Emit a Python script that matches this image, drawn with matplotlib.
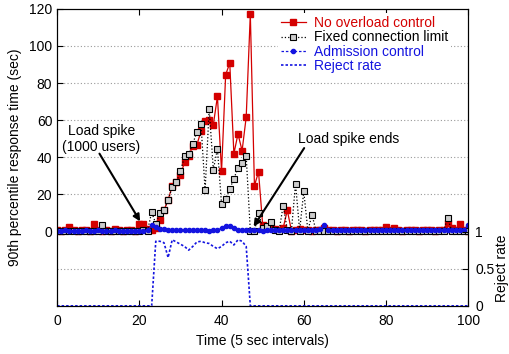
import matplotlib
matplotlib.use("Agg")
import matplotlib.pyplot as plt
import numpy as np

plt.rcParams['font.family'] = ['Liberation Sans', 'DejaVu Sans']
plt.rcParams['font.size'] = 10

# time in 5 sec intervals
t = np.arange(0, 101)

no_control = [
    0.8, 0.5, 1.0, 2.5, 0.6, 0.4, 0.8, 1.0, 0.5, 4.0,
    0.6, 0.4, 0.9, 0.5, 1.5, 0.7, 0.4, 0.6, 0.8, 0.5,
    4.0, 4.0, 1.5, 1.0, 2.0, 6.5, 11.5, 17.2, 24.4, 26.5,
    30.3, 37.5, 40.9, 45.9, 46.8, 54.0, 59.4, 60.3, 57.6, 72.8,
    32.5, 84.5, 90.8, 42.0, 52.6, 43.6, 61.7, 117.3, 24.8, 32.1,
    3.8, 2.0, 2.0, 1.5, 0.8, 2.0, 11.5, 0.5, 0.8, 1.2,
    0.6, 0.9, 0.5, 1.0, 0.7, 2.0, 0.6, 0.8, 0.5, 1.0,
    0.7, 0.5, 0.9, 0.6, 0.8, 0.5, 1.0, 0.6, 0.7, 0.9,
    2.3, 0.6, 1.8, 0.7, 0.5, 0.9, 0.6, 1.0, 0.5, 0.8,
    0.6, 0.9, 0.5, 0.7, 1.0, 4.7, 2.0, 1.0, 4.3, 0.8,
    0.5]

fixed_limit = [
    0.5, 0.3, 0.2, 0.4, 0.3, 0.2, 0.5, 0.3, 0.2, 0.4,
    0.3, 3.4, 0.3, 0.2, 0.4, 0.3, 0.2, 0.5, 0.3, 0.2,
    0.4, 0.6, 0.5, 10.4, 4.3, 10.0, 11.5, 17.0, 24.0, 26.5,
    32.5, 40.5, 42.0, 47.4, 53.6, 58.0, 22.2, 66.2, 33.4, 44.5,
    14.9, 17.6, 23.0, 28.5, 34.3, 37.0, 40.5, 0.3, 0.2, 10.0,
    2.0, 3.0, 5.0, 1.0, 0.5, 14.0, 1.0, 0.5, 25.8, 0.5,
    21.7, 0.5, 9.1, 0.3, 0.5, 0.2, 0.4, 0.3, 0.5, 0.2,
    0.4, 0.3, 0.2, 0.5, 0.3, 0.4, 0.2, 0.3, 0.5, 0.2,
    0.4, 0.3, 0.2, 0.5, 0.3, 0.4, 0.2, 0.3, 0.5, 0.2,
    0.4, 0.3, 0.2, 0.5, 0.3, 7.4, 0.4, 0.3, 0.5, 0.2,
    0.3]

admission = [
    0.5, 0.4, 0.6, 0.5, 0.3, 0.5, 0.4, 0.6, 0.5, 0.4,
    0.6, 0.5, 0.3, 0.5, 0.6, 0.4, 0.5, 0.3, 0.5, 0.4,
    0.5, 0.4, 0.6, 3.5, 2.5, 1.5, 1.2, 1.0, 0.8, 0.9,
    0.7, 0.8, 0.6, 0.7, 0.9, 0.8, 0.6, 0.5, 0.6, 1.0,
    1.8, 2.8, 3.2, 2.0, 1.0, 0.8, 0.7, 1.0, 0.6, 0.7,
    0.5, 0.6, 0.8, 0.7, 0.6, 0.8, 0.9, 0.7, 0.6, 0.8,
    0.7, 0.6, 0.8, 0.9, 1.2, 3.5, 1.0, 0.8, 0.7, 0.6,
    0.8, 0.7, 0.9, 0.6, 0.8, 0.7, 1.0, 0.8, 0.6, 0.7,
    0.8, 0.6, 0.7, 0.9, 0.6, 0.8, 0.7, 0.6, 0.8, 0.7,
    0.6, 0.8, 0.7, 0.9, 0.6, 0.8, 0.7, 0.6, 0.8, 1.0,
    3.8]

reject = [0.0] * 24 + [
    0.87, 0.87, 0.85, 0.65, 0.89, 0.86, 0.83, 0.80, 0.75, 0.80,
    0.86, 0.87, 0.85, 0.84, 0.80, 0.77, 0.80, 0.85, 0.87, 0.82,
    0.89, 0.87, 0.80] + [0.0] * 54

red = '#d40000'
blue = '#1414e0'

fig = plt.figure(figsize=(5.1, 3.54), dpi=100)
ax = fig.add_axes([0.112, 0.136, 0.806, 0.839])

for g in [-20, 20, 40, 60, 80, 100]:
    ax.axhline(g, color='#999999', ls=(0, (1, 2)), lw=0.8, zorder=0)

l1, = ax.plot(t, no_control, '-', color=red, marker='s', ms=4, lw=0.9,
              label='No overload control')
l2, = ax.plot(t, fixed_limit, ':', color='black', marker='s', ms=4, lw=0.9,
              mfc='#cccccc', mec='black', mew=0.8, label='Fixed connection limit')
l3, = ax.plot(t, admission, '--', color=blue, marker='o', ms=3, lw=0.9,
              label='Admission control', dashes=(2, 1.5))

ax.set_xlim(0, 100)
ax.set_ylim(-40, 120)
ax.set_xticks(np.arange(0, 101, 20))
ax.set_yticks(np.arange(0, 121, 20))
ax.tick_params(direction='in', top=True, length=4, width=0.8)
ax.tick_params(axis='x', pad=6)
ax.set_xlabel('Time (5 sec intervals)', labelpad=4)
ax.set_ylabel('90th percentile response time (sec)', labelpad=5)

ax2 = ax.twinx()
l4, = ax2.plot(t, reject, '--', color=blue, lw=1.2, dashes=(1.5, 1.2), label='Reject rate')
ax2.set_ylim(0, 4)
ax2.set_yticks([0, 0.5, 1])
ax2.set_yticklabels(['0', '0.5', '1'])
ax2.tick_params(direction='in', length=4, width=0.8, pad=5)
ax2.set_ylabel('Reject rate')
ax2.yaxis.set_label_coords(1.065, 0.125)

arrow = dict(arrowstyle='-|>', color='black', lw=1.5, shrinkA=0, shrinkB=0,
             mutation_scale=10)
ax.text(10.8, 50, 'Load spike\n(1000 users)', ha='center', va='center')
ax.annotate('', xy=(20.2, 5.5), xytext=(10.3, 42), arrowprops=arrow)
ax.text(71, 50, 'Load spike ends', ha='center', va='center')
ax.annotate('', xy=(47.8, 2.7), xytext=(60.1, 45), arrowprops=arrow)

leg = ax2.legend([l1, l2, l3, l4], [l.get_label() for l in [l1, l2, l3, l4]],
                 loc='upper right', bbox_to_anchor=(0.975, 1.008),
                 frameon=True, fancybox=False, framealpha=1, edgecolor='none',
                 facecolor='white', borderpad=0.2, labelspacing=0.02,
                 handlelength=1.8, handletextpad=0.6, fontsize=10)
for txt, c in zip(leg.get_texts(), [red, 'black', blue, blue]):
    txt.set_color(c)

fig.savefig('out.png', dpi=100)
